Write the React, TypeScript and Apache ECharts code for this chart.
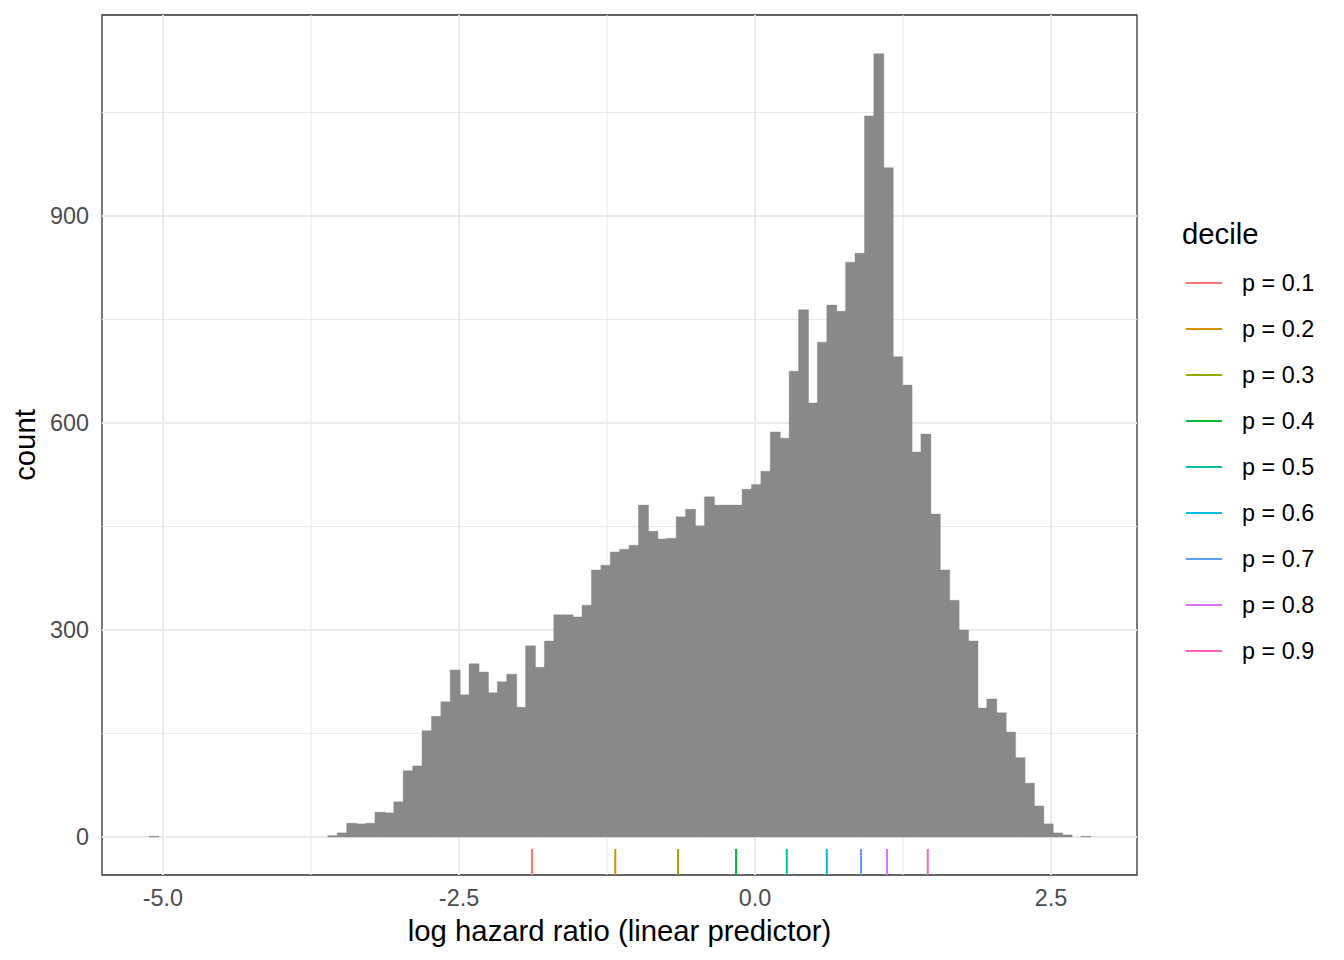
import React, { useEffect, useRef } from "react";
import * as echarts from "echarts";

// Histogram: 100 bins, left edge of first bin and bin width
const binStart = -5.118;
const binWidth = 0.0795;
const counts = [
  1, 0, 0, 0, 0, 0, 0, 0, 0, 0,
  0, 0, 0, 0, 0, 0, 0, 0, 0, 2,
  6, 20, 19, 20, 36, 35, 51, 96, 103, 154,
  175, 196, 242, 206, 251, 239, 209, 225, 236, 188,
  277, 246, 284, 322, 322, 319, 336, 387, 394, 413,
  417, 423, 481, 443, 432, 433, 464, 475, 451, 493,
  481, 481, 481, 504, 511, 530, 587, 578, 675, 764,
  629, 717, 771, 762, 833, 846, 1045, 1135, 970, 696,
  655, 558, 584, 468, 387, 343, 300, 284, 187, 200,
  180, 152, 115, 78, 45, 19, 6, 3, 0, 1,
];

const decileNames = ["p = 0.1", "p = 0.2", "p = 0.3", "p = 0.4", "p = 0.5", "p = 0.6", "p = 0.7", "p = 0.8", "p = 0.9"];
const decileValues = [-1.883, -1.18, -0.65, -0.16, 0.268, 0.606, 0.895, 1.115, 1.459];
const decileColors = ["#F8766D", "#D39200", "#93AA00", "#00BA38", "#00C19F", "#00B9E3", "#619CFF", "#DB72FB", "#FF61C3"];

const xMajor = [-5, -2.5, 0, 2.5];
const xMinor = [-3.75, -1.25, 1.25];
const yMajor = [0, 300, 600, 900];
const yMinor = [150, 450, 750, 1050];

const xMin = -5.515;
const xMax = 3.226;
const yMin = -55.07;
const yMax = 1191.3;

const FONT = "'Liberation Sans', Arial, Helvetica, sans-serif";
const TICK_FS = 23.4;
const TITLE_FS = 29.3;

export default function App() {
  const ref = useRef<HTMLDivElement>(null);

  useEffect(() => {
    if (!ref.current) return;
    const chart = echarts.init(ref.current, undefined, { renderer: "svg" });

    const histData = counts.map((c, k) => [binStart + k * binWidth, binStart + (k + 1) * binWidth, c]);
    const gridData: number[][] = [];
    xMajor.forEach((v) => gridData.push([0, v, 1]));
    xMinor.forEach((v) => gridData.push([0, v, 0]));
    yMajor.forEach((v) => gridData.push([1, v, 1]));
    yMinor.forEach((v) => gridData.push([1, v, 0]));
    const rugData = decileValues.map((v, i) => [v, i]);

    const legendTop = 283;
    const legendStep = 46;
    const legendGraphics: any[] = [
      {
        type: "text",
        x: 1182,
        y: 233,
        style: {
          text: "decile",
          fontSize: TITLE_FS,
          fontFamily: FONT,
          fill: "#000000",
          verticalAlign: "middle",
          align: "left",
        },
      },
    ];
    decileNames.forEach((name, i) => {
      const y = legendTop + legendStep * i;
      legendGraphics.push({
        type: "line",
        shape: { x1: 1186, y1: y, x2: 1222, y2: y },
        style: { stroke: decileColors[i], lineWidth: 2 },
      });
      legendGraphics.push({
        type: "text",
        x: 1242,
        y: y,
        style: {
          text: name,
          fontSize: TICK_FS,
          fontFamily: FONT,
          fill: "#000000",
          verticalAlign: "middle",
          align: "left",
        },
      });
    });

    chart.setOption({
      animation: false,
      textStyle: { fontFamily: FONT },
      grid: {
        left: 102,
        top: 15,
        width: 1035,
        height: 860,
        show: true,
        borderColor: "#333333",
        borderWidth: 1.3,
        backgroundColor: "transparent",
        containLabel: false,
      },
      xAxis: {
        type: "value",
        min: xMin,
        max: xMax,
        splitLine: { show: false },
        axisLine: { show: false },
        axisTick: {
          show: true,
          customValues: xMajor,
          length: 7,
          lineStyle: { color: "#333333", width: 2 },
        },
        axisLabel: {
          customValues: xMajor,
          formatter: (v: number) => v.toFixed(1),
          color: "#4D4D4D",
          fontSize: TICK_FS,
          fontFamily: FONT,
          margin: 11,
        },
        name: "log hazard ratio (linear predictor)",
        nameLocation: "middle",
        nameGap: 41,
        nameTextStyle: { fontSize: TITLE_FS, color: "#000000", fontFamily: FONT },
      },
      yAxis: {
        type: "value",
        min: yMin,
        max: yMax,
        splitLine: { show: false },
        axisLine: { show: false },
        axisTick: {
          show: true,
          customValues: yMajor,
          length: 7,
          lineStyle: { color: "#333333", width: 2 },
        },
        axisLabel: {
          customValues: yMajor,
          formatter: (v: number) => String(v),
          color: "#4D4D4D",
          fontSize: TICK_FS,
          fontFamily: FONT,
          margin: 13,
        },
        name: "count",
        nameLocation: "middle",
        nameGap: 60,
        nameRotate: 90,
        nameTextStyle: { fontSize: TITLE_FS, color: "#000000", fontFamily: FONT },
      },
      series: [
        {
          type: "custom",
          name: "gridlines",
          silent: true,
          z: 1,
          data: gridData,
          encode: { x: 1, y: 1 },
          renderItem: (params: any, api: any) => {
            const cs = params.coordSys;
            const axis = api.value(0);
            const v = api.value(1);
            const major = api.value(2) === 1;
            const style = { stroke: "#EBEBEB", lineWidth: major ? 2 : 1 };
            if (axis === 0) {
              const p = api.coord([v, 0])[0];
              return { type: "line", shape: { x1: p, y1: cs.y, x2: p, y2: cs.y + cs.height }, style };
            }
            const p = api.coord([0, v])[1];
            return { type: "line", shape: { x1: cs.x, y1: p, x2: cs.x + cs.width, y2: p }, style };
          },
        },
        {
          type: "custom",
          name: "count",
          z: 2,
          data: histData,
          encode: { x: [0, 1], y: 2 },
          renderItem: (params: any, api: any) => {
            const c = api.value(2);
            if (c <= 0) return null;
            const a = api.coord([api.value(0), 0]);
            const b = api.coord([api.value(1), c]);
            return {
              type: "rect",
              shape: { x: a[0], y: b[1], width: b[0] - a[0] + 0.6, height: a[1] - b[1] },
              style: { fill: "#898989", stroke: "#898989", lineWidth: 0.4 },
            };
          },
        },
        {
          type: "custom",
          name: "decile",
          z: 3,
          data: rugData,
          encode: { x: 0 },
          renderItem: (params: any, api: any) => {
            const i = api.value(1);
            const p = api.coord([api.value(0), yMin]);
            return {
              type: "line",
              shape: { x1: p[0], y1: p[1], x2: p[0], y2: p[1] - 26 },
              style: { stroke: decileColors[i], lineWidth: 2 },
            };
          },
        },
      ],
      graphic: legendGraphics,
    });

    return () => chart.dispose();
  }, []);

  return (
    <div
      ref={ref}
      style={{ position: "fixed", left: 0, top: 0, width: 1344, height: 960, background: "#ffffff" }}
    />
  );
}
